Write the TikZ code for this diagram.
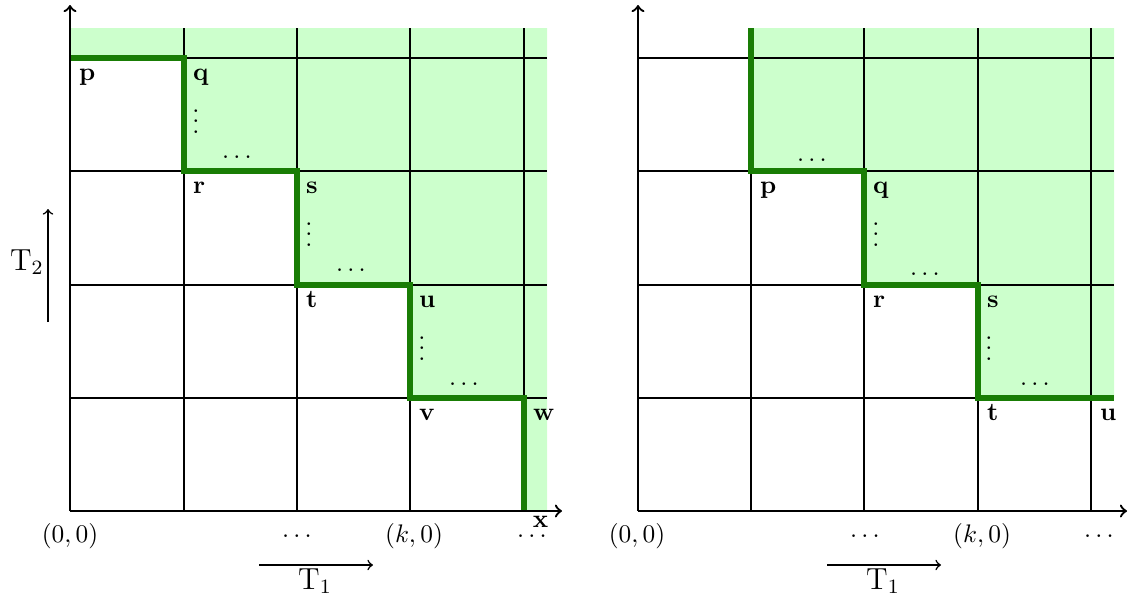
\documentclass[tikz,border=0pt]{standalone}
\usetikzlibrary{calc}
\definecolor{pathgreen}{RGB}{25,125,5}
\definecolor{shadegreen}{RGB}{204,255,204}
\begin{document}
\begin{tikzpicture}[x=0.3937pt,y=-0.3937pt,
  gridline/.style={line width=0.65pt},
  axisline/.style={line width=0.9pt,->},
  stair/.style={line width=2.4pt,draw=pathgreen,line join=miter},
  shadearea/.style={fill=shadegreen},
  ptlabel/.style={anchor=base west,inner sep=0pt,xshift=3.4pt,yshift=-8.8pt,font=\bfseries},
  vdotlabel/.style={anchor=base,inner sep=0pt},
  hdotlabel/.style={anchor=base,inner sep=0pt,yshift=-2.5pt},
  ticklabel/.style={anchor=base,inner sep=0pt},
  dirlabel/.style={anchor=base,inner sep=0pt,font=\large},
  dirarrow/.style={line width=0.6pt,->}]
\useasboundingbox (0,0) rectangle (1128,597);

% ---------------- left panel ----------------
\coordinate (LO) at (70,511);
\coordinate (Ltop) at (70,5);
\coordinate (Lright) at (562,511);
\coordinate (Lp) at (70,58);
\coordinate (Lq) at (184,58);
\coordinate (Lr) at (184,171);
\coordinate (Ls) at (297,171);
\coordinate (Lt) at (297,285);
\coordinate (Lu) at (410,285);
\coordinate (Lv) at (410,398);
\coordinate (Lw) at (524,398);
\coordinate (Lend) at (524,511);

\fill[shadearea] (70,28) -- (Lp) -- (Lq) -- (Lr) -- (Ls) -- (Lt) -- (Lu) -- (Lv) -- (Lw) -- (Lend) -- (547,511) -- (547,28) -- cycle;
\foreach \x in {184,297,410,524} \draw[gridline] (\x,511) -- (\x,28);
\foreach \y in {398,285,171,58} \draw[gridline] (70,\y) -- (547,\y);
\draw[stair] (Lp) -- (Lq) -- (Lr) -- (Ls) -- (Lt) -- (Lu) -- (Lv) -- (Lw) -- (Lend);
\draw[axisline] (LO) -- (Ltop);
\draw[axisline] (LO) -- (Lright);

\node[ptlabel] (lp) at (Lp) {p};
\node[ptlabel] (lq) at (Lq) {q};
\node[ptlabel] (lr) at (Lr) {r};
\node[ptlabel] (ls) at (Ls) {s};
\node[ptlabel] (lt) at (Lt) {t};
\node[ptlabel] (lu) at (Lu) {u};
\node[ptlabel] (lv) at (Lv) {v};
\node[ptlabel] (lw) at (Lw) {w};

\node[vdotlabel] (lvd1) at (196,133) {$\vdots$};
\node[vdotlabel] (lvd2) at (309,246) {$\vdots$};
\node[vdotlabel] (lvd3) at (422,360) {$\vdots$};
\node[hdotlabel] (lhd1) at (237,157) {$\cdots$};
\node[hdotlabel] (lhd2) at (351,270) {$\cdots$};
\node[hdotlabel] (lhd3) at (464,384) {$\cdots$};

\node[ticklabel] (l00) at (70,542) {$(0,0)$};
\node[ticklabel] (ld1) at (297,542) {$\cdots$};
\node[ticklabel] (lk0) at (414,542) {$(k,0)$};
\node[ticklabel] (ld2) at (532,542) {$\cdots$};
\node[ticklabel,font=\bfseries] (lx) at (540.5,527) {x};

\coordinate (LT1a) at (259,565);
\coordinate (LT1b) at (373,565);
\draw[dirarrow] (LT1a) -- (LT1b);
\node[dirlabel] (lT1) at (315,589) {$\mathrm{T}_1$};
\coordinate (LT2a) at (48,322);
\coordinate (LT2b) at (48,209);
\draw[dirarrow] (LT2a) -- (LT2b);
\node[dirlabel] (lT2) at (27,270) {$\mathrm{T}_2$};

% ---------------- right panel ----------------
\coordinate (RO) at (638,511);
\coordinate (Rtop) at (638,5);
\coordinate (Rright) at (1127,511);
\coordinate (Rstart) at (751,28);
\coordinate (Rp) at (751,171);
\coordinate (Rq) at (864,171);
\coordinate (Rr) at (864,285);
\coordinate (Rs) at (978,285);
\coordinate (Rt) at (978,398);
\coordinate (Ru) at (1091,398);
\coordinate (Rend) at (1114,398);

\fill[shadearea] (Rstart) -- (Rp) -- (Rq) -- (Rr) -- (Rs) -- (Rt) -- (Rend) -- (1114,28) -- cycle;
\foreach \x in {751,864,978,1091} \draw[gridline] (\x,511) -- (\x,28);
\foreach \y in {398,285,171,58} \draw[gridline] (638,\y) -- (1114,\y);
\draw[stair] (Rstart) -- (Rp) -- (Rq) -- (Rr) -- (Rs) -- (Rt) -- (Rend);
\draw[axisline] (RO) -- (Rtop);
\draw[axisline] (RO) -- (Rright);

\node[ptlabel] (rp) at (Rp) {p};
\node[ptlabel] (rq) at (Rq) {q};
\node[ptlabel] (rr) at (Rr) {r};
\node[ptlabel] (rs) at (Rs) {s};
\node[ptlabel] (rt) at (Rt) {t};
\node[ptlabel] (ru) at (Ru) {u};

\node[vdotlabel] (rvd1) at (876,246) {$\vdots$};
\node[vdotlabel] (rvd2) at (989,360) {$\vdots$};
\node[hdotlabel] (rhd1) at (812,160) {$\cdots$};
\node[hdotlabel] (rhd2) at (925,274) {$\cdots$};
\node[hdotlabel] (rhd3) at (1035,384) {$\cdots$};

\node[ticklabel] (r00) at (637,542) {$(0,0)$};
\node[ticklabel] (rd1) at (865,542) {$\cdots$};
\node[ticklabel] (rk0) at (982,542) {$(k,0)$};
\node[ticklabel] (rd2) at (1099,542) {$\cdots$};

\coordinate (RT1a) at (827,565);
\coordinate (RT1b) at (941,565);
\draw[dirarrow] (RT1a) -- (RT1b);
\node[dirlabel] (rT1) at (883,589) {$\mathrm{T}_1$};
\end{tikzpicture}
\end{document}
